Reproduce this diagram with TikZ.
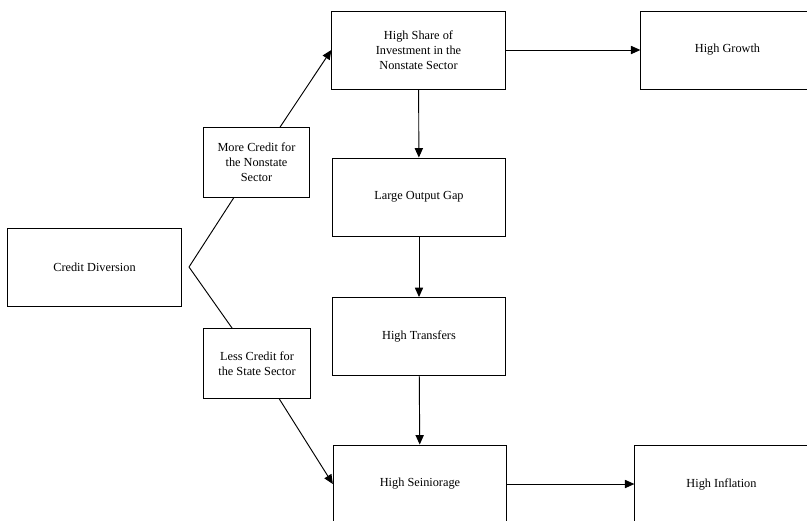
\documentclass[tikz,border=0pt]{standalone}
\usepackage{fontspec}
\setmainfont{Liberation Serif}
\usetikzlibrary{arrows.meta}
\begin{document}
\begin{tikzpicture}[x=0.03cm,y=-0.03cm,
    box/.style={shape=rectangle,draw=black,fill=white,line width=0.8pt,align=center,
      font=\fontsize{10.5}{12.8}\selectfont,inner sep=2pt,
      minimum width=5.2cm,minimum height=2.34cm},
    smallbox/.style={box,minimum width=3.2cm,minimum height=2.08cm},
    link/.style={line width=0.8pt,-{Triangle[length=8pt,width=7pt]}},
    branch/.style={line width=0.8pt}]
        \useasboundingbox (0,0) rectangle (807,520);
        \clip (0,0) rectangle (807,520);
        \node[box] (diversion) at (94.5,267.5) {Credit Diversion};
        \node[smallbox] (more) at (256.5,162.5) {More Credit for\\the Nonstate\\Sector};
        \node[smallbox] (less) at (257,363.5) {Less Credit for\\the State Sector};
        \node[box] (share) at (418.5,50) {High Share of\\Investment in the\\Nonstate Sector};
        \node[box] (gap) at (419,197) {Large Output Gap};
        \node[box] (transfers) at (419,336.5) {High Transfers};
        \node[box] (seigniorage) at (420,484) {High Seiniorage};
        \node[box] (growth) at (727.5,50) {High Growth};
        \node[box] (inflation) at (721.5,484) {High Inflation};
        \coordinate (fork) at (189,267);
        \path [branch](fork) edge (more);
        \path [branch](fork) edge (less);
        \path [link](more) edge (share.west);
        \path [link](less) edge (seigniorage.west);
        \path [link](share) edge (growth);
        \path [link](share) edge (gap);
        \path [link](gap) edge (transfers);
        \path [link](transfers) edge (seigniorage);
        \path [link](seigniorage) edge (inflation);
    \end{tikzpicture}
\end{document}
